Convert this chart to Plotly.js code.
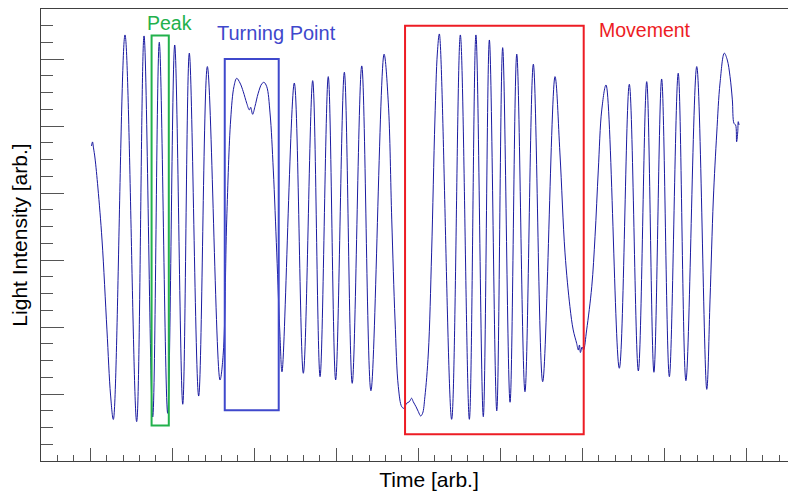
<!DOCTYPE html>
<html>
<head>
<meta charset="utf-8">
<script src="https://cdn.plot.ly/plotly-3.0.1.min.js"></script>
<style>
  html, body { margin: 0; padding: 0; overflow: hidden; background: #ffffff; }
  #chart { width: 830px; height: 491px; }
</style>
</head>
<body>
<div id="chart"></div>
<script>
// Interferometer trace: light intensity sampled over time (arbitrary units)
const time = [
  50.8, 51.4, 52.0, 52.9, 54.7, 57.2, 60.2, 62.4, 64.1, 71.2,
  78.3, 82.8, 88.1, 92.1, 97.2, 101.5, 106.4, 110.4, 116.1, 121.4,
  129.1, 131.1, 133.2, 135.6, 137.6, 139.3, 141.3, 143.3, 145.4, 147.0,
  147.8, 149.0, 150.4, 152.4, 154.5, 155.9, 157.6, 159.6, 161.6, 163.7,
  165.7, 166.9, 174.4, 179.9, 185.6, 190.1, 195.1, 199.6, 204.9, 209.7,
  215.5, 221.1, 229.1, 231.7, 233.8, 235.8, 237.8, 239.9, 241.3, 242.9,
  244.5, 245.9, 246.9, 248.6, 250.0, 251.4, 252.6, 254.0, 256.1, 258.1,
  260.1, 261.6, 262.8, 270.3, 275.6, 281.1, 285.1, 289.6, 293.3, 297.8,
  301.4, 305.9, 310.0, 315.0, 320.1, 325.8, 333.3, 336.3, 339.4, 342.4,
  344.4, 346.5, 347.5, 348.2, 348.8, 349.8, 350.7, 352.6, 355.7, 357.7,
  359.7, 361.8, 364.4, 372.5, 378.6, 384.1, 389.2, 393.6, 398.3, 403.0,
  408.4, 413.1, 419.7, 425.8, 427.8, 429.8, 431.9, 433.9, 436.5, 438.3,
  440.0, 441.4, 442.4, 443.4, 444.0, 444.7, 445.0, 445.5
];
const intensity = [
  188.2, 190.6, 187.0, 181.0, 163.1, 132.0, 78.3, 39.4, 24.8, 254.5,
  23.5, 253.9, 26.3, 250.1, 28.5, 248.5, 33.9, 243.6, 38.8, 235.6,
  48.4, 64.5, 144.0, 203.7, 223.6, 228.6, 225.8, 220.6, 213.7, 209.7,
  211.3, 207.1, 211.7, 219.7, 225.2, 226.2, 223.6, 207.9, 173.8, 124.3,
  74.3, 53.3, 225.8, 52.4, 227.2, 50.4, 229.6, 48.4, 232.2, 46.4,
  236.0, 42.0, 243.0, 213.9, 144.0, 84.2, 44.4, 32.4, 31.5, 34.5,
  35.4, 37.5, 35.4, 32.4, 29.5, 26.9, 28.5, 38.4, 64.5, 124.3,
  203.7, 243.7, 255.1, 24.9, 254.5, 24.9, 254.5, 26.5, 251.5, 30.0,
  246.9, 35.1, 243.0, 41.4, 237.0, 47.4, 229.6, 184.0, 124.3, 92.2,
  78.3, 70.3, 66.3, 69.3, 64.8, 68.1, 66.3, 78.3, 104.1, 134.0,
  173.8, 209.7, 224.6, 55.4, 225.0, 53.8, 226.6, 53.0, 228.2, 50.4,
  231.6, 48.0, 235.6, 42.8, 96.2, 155.9, 195.9, 225.8, 243.6, 239.6,
  229.6, 215.7, 201.7, 200.7, 190.7, 196.7, 202.7, 200.7
];

// Highlighted regions of the trace (time span and intensity span)
const regionNames = ['Peak', 'Turning Point', 'Movement'];
const regionStart = [87.4, 132.0, 241.9];
const regionEnd   = [97.9, 164.9, 350.8];
const regionLow   = [21.2, 30.3, 16.0];
const regionHigh  = [254.2, 240.2, 260.0];

const regionColors = ['#22B14C', '#3F48CC', '#ED1C24'];
const labelPos = [
  { x: 98.3, y: 261.8, size: 19.5 },
  { x: 163.7, y: 255.6, size: 20 },
  { x: 388.0, y: 257.2, size: 19.5 }
];

const FONT = "'Liberation Sans', Arial, sans-serif";

const trace = {
  x: time,
  y: intensity,
  type: 'scatter',
  mode: 'lines',
  line: { color: '#1a1aa0', width: 1, shape: 'spline', smoothing: 1 },
  hoverinfo: 'skip'
};

const shapes = regionNames.map((name, i) => ({
  type: 'rect',
  xref: 'x', yref: 'y',
  x0: regionStart[i], x1: regionEnd[i],
  y0: regionLow[i], y1: regionHigh[i],
  line: { color: regionColors[i], width: 2 },
  fillcolor: 'rgba(0,0,0,0)'
}));

const annotations = regionNames.map((name, i) => ({
  text: name,
  xref: 'x', yref: 'y',
  x: labelPos[i].x, y: labelPos[i].y,
  xanchor: 'center', yanchor: 'middle',
  showarrow: false,
  font: { family: FONT, size: labelPos[i].size, color: regionColors[i] }
}));

const axisLine = '#404040';

const layout = {
  width: 830,
  height: 491,
  margin: { l: 41, r: 13, t: 9, b: 30 },
  paper_bgcolor: '#ffffff',
  plot_bgcolor: '#ffffff',
  showlegend: false,
  font: { family: FONT, color: '#000000' },
  xaxis: {
    range: [20, 493],
    showgrid: false,
    zeroline: false,
    showline: true,
    linecolor: axisLine,
    linewidth: 1,
    mirror: true,
    ticks: 'inside',
    tick0: 0,
    dtick: 50,
    ticklen: 13,
    tickwidth: 1,
    tickcolor: '#555555',
    showticklabels: false,
    minor: { dtick: 10, ticks: 'inside', ticklen: 6, tickwidth: 1, tickcolor: '#555555', showgrid: false },
    title: { text: 'Time [arb.]', standoff: 14, font: { family: FONT, size: 21, color: '#000000' } }
  },
  yaxis: {
    range: [0, 270],
    showgrid: false,
    zeroline: false,
    showline: true,
    linecolor: axisLine,
    linewidth: 1,
    ticks: 'inside',
    tick0: 0,
    dtick: 40,
    ticklen: 23,
    tickwidth: 1,
    tickcolor: '#555555',
    showticklabels: false,
    minor: { dtick: 10, ticks: 'inside', ticklen: 12, tickwidth: 1, tickcolor: '#555555', showgrid: false },
    title: { text: 'Light Intensity [arb.]', standoff: 6, font: { family: FONT, size: 21, color: '#000000' } }
  },
  shapes: shapes,
  annotations: annotations
};

Plotly.newPlot('chart', [trace], layout, { displayModeBar: false, staticPlot: true });
</script>
</body>
</html>
